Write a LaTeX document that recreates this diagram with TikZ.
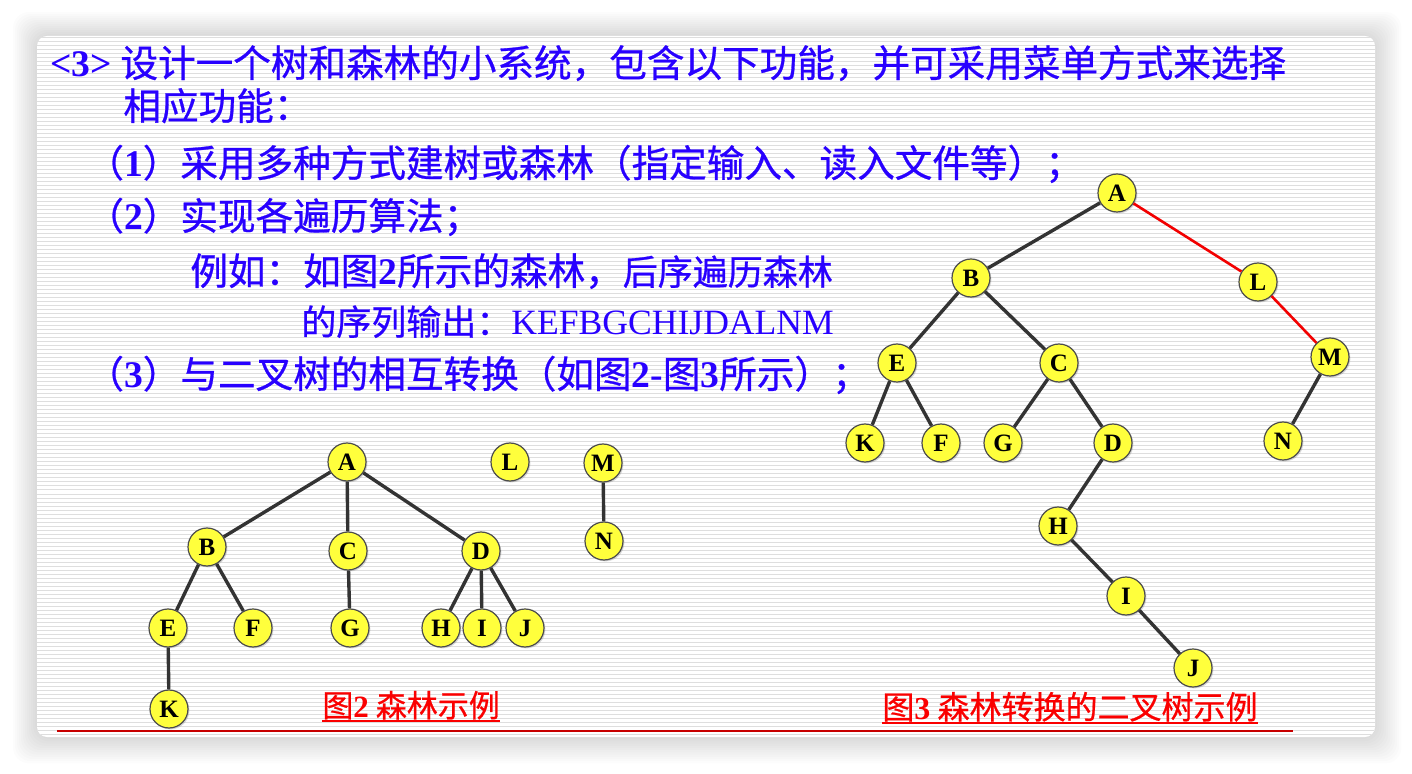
\documentclass[tikz,border=0pt]{standalone}
\usepackage{fontspec}
\setmainfont{Liberation Serif}
\newfontfamily\cjk[FakeBold=0.7]{Noto Sans CJK SC}
\usetikzlibrary{shadows}
\definecolor{slideblue}{RGB}{40,0,255}
\definecolor{nodeyellow}{RGB}{255,255,60}
\definecolor{capred}{RGB}{250,0,0}
\definecolor{rulered}{RGB}{200,0,0}
\newcommand{\lat}[1]{{\rmfamily\bfseries #1}}

\begin{document}
\begin{tikzpicture}[x=0.5pt,y=-0.5pt]

\tikzset{vertex/.style = {shape=circle,draw=black!70,fill=nodeyellow,line width=0.6pt,minimum size=19pt,inner sep=0pt,font=\rmfamily\bfseries\fontsize{12.5}{14}\selectfont,drop shadow={shadow xshift=0.7pt,shadow yshift=-0.7pt,opacity=0.3}}}
\tikzset{edge/.style = {draw=black!80,line width=1.7pt}}
\tikzset{redge/.style = {draw=red!95!black,line width=1.3pt}}
\tikzset{txt/.style = {anchor=base west,inner sep=0pt,text=slideblue,font=\cjk\fontsize{18.8}{22}\selectfont}}
\tikzset{caption/.style = {anchor=base west,inner xsep=0pt,inner ysep=1.7pt,text depth=0pt,text=capred,font=\cjk\fontsize{15.5}{18}\selectfont}}
\tikzset{capline/.style = {draw=capred,line width=1pt}}
\tikzset{rule/.style = {draw=rulered,line width=1.4pt}}

%slide
\useasboundingbox (0,0) rectangle (1412,774);
\fill[white] (0,0) rectangle (1412,774);
\foreach \s in {1,...,12}
  \fill[black,opacity=0.012,rounded corners=8pt] (37-\s*2,36-\s*2) rectangle (1375+\s*2.2,737+\s*2.2);
\fill[white,rounded corners=5pt] (37,36) rectangle (1375,737);
\begin{scope}
\clip[rounded corners=5pt] (37,36) rectangle (1375,737);
\foreach \y in {38,42,...,736}
  \draw[black!13,line width=0.5pt] (37,\y) -- (1375,\y);
\end{scope}

%text
\node[txt] (head) at (50,77) {\lat{<3>} 设计一个树和森林的小系统，包含以下功能，并可采用菜单方式来选择};
\node[txt] (head2) at (123,120) {相应功能：};
\node[txt] (item1) at (86,177) {（\lat{1}）采用多种方式建树或森林（指定输入、读入文件等）；};
\node[txt] (item2) at (86,230) {（\lat{2}）实现各遍历算法；};
\node[txt] (ex1) at (190,285) {例如：如图\lat{2}所示的森林，{\fontsize{17.5}{20}\selectfont 后序遍历森林}};
\node[txt] (ex2) at (301,335) {{\fontsize{17.5}{20}\selectfont 的序列输出：}{\rmfamily\fontsize{17.8}{20}\selectfont KEFBGCHIJDALNM}};
\node[txt] (item3) at (86,388) {（\lat{3}）与二叉树的相互转换（如图\lat{2-}图\lat{3}所示）；};

%forest verticies
\node[vertex] (fA) at (347,462) {A};
\node[vertex] (fL) at (510,462) {L};
\node[vertex] (fM) at (603,463) {M};
\node[vertex] (fN) at (604,541) {N};
\node[vertex] (fB) at (207,547) {B};
\node[vertex] (fC) at (348,551) {C};
\node[vertex] (fD) at (481,551) {D};
\node[vertex] (fE) at (168,628) {E};
\node[vertex] (fF) at (253,628) {F};
\node[vertex] (fG) at (350,628) {G};
\node[vertex] (fH) at (441,628) {H};
\node[vertex] (fI) at (482,628) {I};
\node[vertex] (fJ) at (525,628) {J};
\node[vertex] (fK) at (169,709) {K};
%forest edges
\path [edge] (fA) edge (fB);
\path [edge] (fA) edge (fC);
\path [edge] (fA) edge (fD);
\path [edge] (fB) edge (fE);
\path [edge] (fB) edge (fF);
\path [edge] (fE) edge (fK);
\path [edge] (fC) edge (fG);
\path [edge] (fD) edge (fH);
\path [edge] (fD) edge (fI);
\path [edge] (fD) edge (fJ);
\path [edge] (fM) edge (fN);

%binary tree verticies
\node[vertex] (bA) at (1117,193) {A};
\node[vertex] (bB) at (971,278) {B};
\node[vertex] (bL) at (1258,282) {L};
\node[vertex] (bE) at (897,363) {E};
\node[vertex] (bC) at (1059,363) {C};
\node[vertex] (bM) at (1330,357) {M};
\node[vertex] (bK) at (865,443) {K};
\node[vertex] (bF) at (941,443) {F};
\node[vertex] (bG) at (1003,443) {G};
\node[vertex] (bD) at (1113,443) {D};
\node[vertex] (bN) at (1283,441) {N};
\node[vertex] (bH) at (1058,526) {H};
\node[vertex] (bI) at (1126,596) {I};
\node[vertex] (bJ) at (1193,668) {J};
%binary tree edges
\path [edge] (bA) edge (bB);
\path [edge] (bB) edge (bE);
\path [edge] (bB) edge (bC);
\path [edge] (bE) edge (bK);
\path [edge] (bE) edge (bF);
\path [edge] (bC) edge (bG);
\path [edge] (bC) edge (bD);
\path [edge] (bD) edge (bH);
\path [edge] (bH) edge (bI);
\path [edge] (bI) edge (bJ);
\path [edge] (bM) edge (bN);
\path [redge] (bA) edge (bL);
\path [redge] (bL) edge (bM);

%captions
\node[caption] (cap2) at (322,717) {图\lat{2} 森林示例};
\node[caption,font=\cjk\fontsize{16}{19}\selectfont] (cap3) at (882,719) {图\lat{3} 森林转换的二叉树示例};
\draw[capline] (cap2.south west) -- (cap2.south east);
\draw[capline] (cap3.south west) -- (cap3.south east);
\coordinate (ruleL) at (57,731);
\coordinate (ruleR) at (1293,731);
\draw[rule] (ruleL) -- (ruleR);

\end{tikzpicture}
\end{document}
